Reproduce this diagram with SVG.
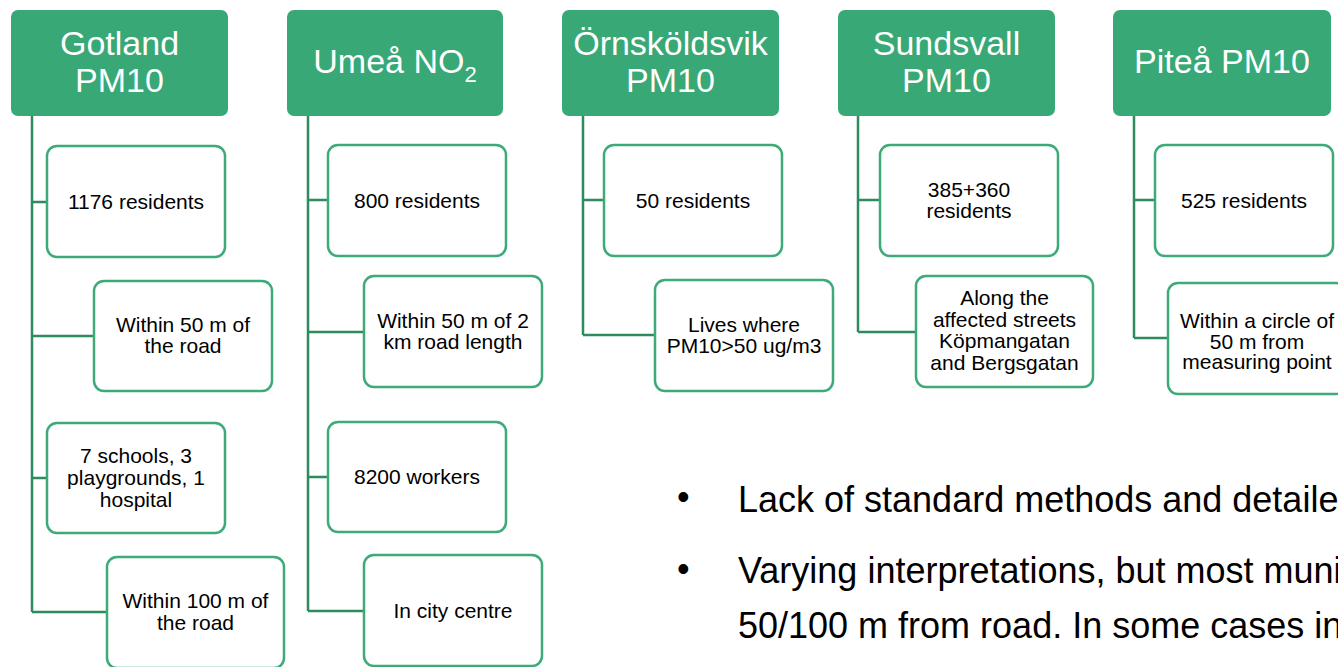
<svg xmlns="http://www.w3.org/2000/svg" width="1338" height="667" viewBox="0 0 1338 667">
<style>
.hdr{fill:#38A876;}
.ht{fill:#FFFFFF;font-family:"Liberation Sans",Arial,sans-serif;font-size:34px;text-anchor:middle;}
.box{fill:#FFFFFF;stroke:#3DAA78;stroke-width:2.5;}
.ct{fill:#000000;font-family:"Liberation Sans",Arial,sans-serif;font-size:21px;text-anchor:middle;}
.con{fill:none;stroke:#2E8B5E;stroke-width:2.5;}
.bt{fill:#000000;font-family:"Liberation Sans",Arial,sans-serif;font-size:36px;}
</style>
<rect width="1338" height="667" fill="#FFFFFF"/>
<g id="connectors">
<path class="con" d="M32,116 V612 M32,202 H47 M32,336 H94 M32,478 H47 M32,612 H107"/>
<path class="con" d="M308,116 V611 M308,200 H328 M308,332 H364 M308,477 H328 M308,611 H364"/>
<path class="con" d="M583,116 V335 M583,200 H604 M583,335 H655"/>
<path class="con" d="M858,116 V332 M858,200 H880 M858,332 H916"/>
<path class="con" d="M1134,116 V338 M1134,200 H1155 M1134,338 H1168"/>
</g>
<g id="gotland">
<rect class="hdr" x="11" y="10" width="217" height="106" rx="7"/>
<text class="ht" x="119.5" y="55">Gotland</text>
<text class="ht" x="119.5" y="92">PM10</text>
</g>
<g id="gotland-residents">
<rect class="box" x="47" y="146" width="178" height="111" rx="10"/>
<text class="ct" x="136" y="209">1176 residents</text>
</g>
<g id="gotland-50m">
<rect class="box" x="94" y="281" width="178" height="110" rx="10"/>
<text class="ct" x="183" y="332">Within 50 m of</text>
<text class="ct" x="183" y="353">the road</text>
</g>
<g id="gotland-schools">
<rect class="box" x="47" y="423" width="178" height="110" rx="10"/>
<text class="ct" x="136" y="463">7 schools, 3</text>
<text class="ct" x="136" y="485">playgrounds, 1</text>
<text class="ct" x="136" y="507">hospital</text>
</g>
<g id="gotland-100m">
<rect class="box" x="107" y="557" width="177" height="111" rx="10"/>
<text class="ct" x="195.5" y="608">Within 100 m of</text>
<text class="ct" x="195.5" y="630">the road</text>
</g>
<g id="umea">
<rect class="hdr" x="287" y="10" width="216" height="106" rx="7"/>
<text class="ht" x="395" y="73">Umeå NO<tspan font-size="22px" dy="9">2</tspan></text>
</g>
<g id="umea-residents">
<rect class="box" x="328" y="145" width="178" height="111" rx="10"/>
<text class="ct" x="417" y="208">800 residents</text>
</g>
<g id="umea-road">
<rect class="box" x="364" y="276" width="178" height="111" rx="10"/>
<text class="ct" x="453" y="328">Within 50 m of 2</text>
<text class="ct" x="453" y="349">km road length</text>
</g>
<g id="umea-workers">
<rect class="box" x="328" y="422" width="178" height="110" rx="10"/>
<text class="ct" x="417" y="484">8200 workers</text>
</g>
<g id="umea-centre">
<rect class="box" x="364" y="555" width="178" height="111" rx="10"/>
<text class="ct" x="453" y="618">In city centre</text>
</g>
<g id="ornskoldsvik">
<rect class="hdr" x="562" y="10" width="217" height="106" rx="7"/>
<text class="ht" x="670.5" y="55">Örnsköldsvik</text>
<text class="ht" x="670.5" y="92">PM10</text>
</g>
<g id="ornskoldsvik-residents">
<rect class="box" x="604" y="145" width="178" height="111" rx="10"/>
<text class="ct" x="693" y="208">50 residents</text>
</g>
<g id="ornskoldsvik-lives">
<rect class="box" x="655" y="280" width="178" height="111" rx="10"/>
<text class="ct" x="744" y="332">Lives where</text>
<text class="ct" x="744" y="353">PM10&gt;50 ug/m3</text>
</g>
<g id="sundsvall">
<rect class="hdr" x="838" y="10" width="217" height="106" rx="7"/>
<text class="ht" x="946.5" y="55">Sundsvall</text>
<text class="ht" x="946.5" y="92">PM10</text>
</g>
<g id="sundsvall-residents">
<rect class="box" x="880" y="145" width="178" height="111" rx="10"/>
<text class="ct" x="969" y="197">385+360</text>
<text class="ct" x="969" y="218">residents</text>
</g>
<g id="sundsvall-streets">
<rect class="box" x="916" y="276" width="177" height="111" rx="10"/>
<text class="ct" x="1004.5" y="305">Along the</text>
<text class="ct" x="1004.5" y="326.5">affected streets</text>
<text class="ct" x="1004.5" y="348">Köpmangatan</text>
<text class="ct" x="1004.5" y="369.5">and Bergsgatan</text>
</g>
<g id="pitea">
<rect class="hdr" x="1113" y="10" width="218" height="106" rx="7"/>
<text class="ht" x="1222" y="73">Piteå PM10</text>
</g>
<g id="pitea-residents">
<rect class="box" x="1155" y="145" width="178" height="111" rx="10"/>
<text class="ct" x="1244" y="208">525 residents</text>
</g>
<g id="pitea-circle">
<rect class="box" x="1168" y="283" width="178" height="111" rx="10"/>
<text class="ct" x="1257" y="328">Within a circle of</text>
<text class="ct" x="1257" y="348.5">50 m from</text>
<text class="ct" x="1257" y="369">measuring point</text>
</g>
<g id="notes">
<text class="bt" x="677" y="509" font-size="26px">•</text>
<text class="bt" x="738" y="512">Lack of standard methods and detaile</text>
<text class="bt" x="677" y="581" font-size="26px">•</text>
<text class="bt" x="738" y="583">Varying interpretations, but most muni</text>
<text class="bt" x="738" y="638">50/100 m from road. In some cases in</text>
</g>
</svg>
